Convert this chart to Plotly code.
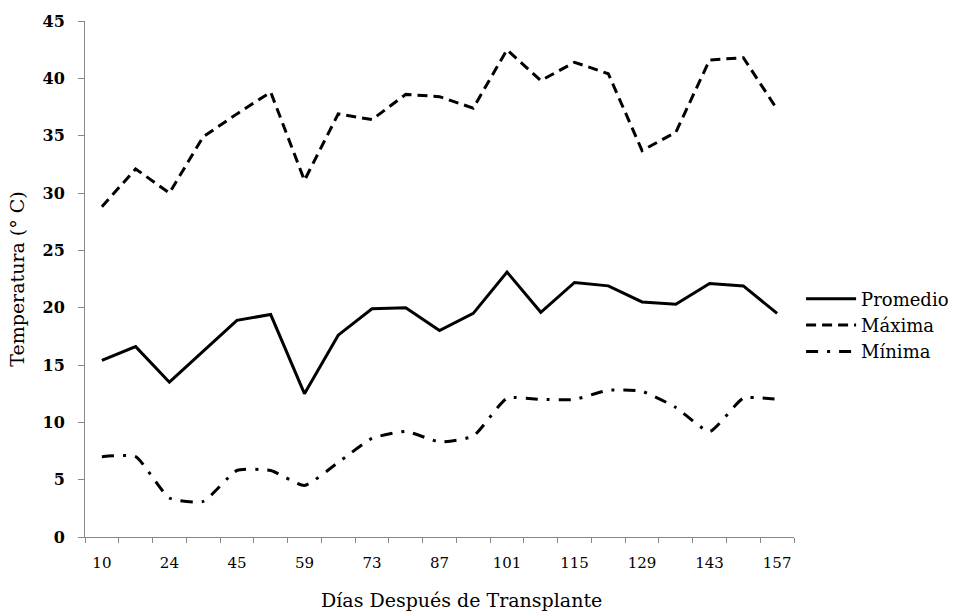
import plotly.graph_objects as go

days = ["10", "17", "24", "31", "45", "52", "59", "66", "73", "80", "87",
        "94", "101", "108", "115", "122", "129", "136", "143", "150", "157"]
promedio = [15.4, 16.6, 13.5, 16.2, 18.9, 19.4, 12.5, 17.6, 19.9, 20.0, 18.0,
            19.5, 23.1, 19.6, 22.2, 21.9, 20.5, 20.3, 22.1, 21.9, 19.5]
maxima = [28.8, 32.1, 30.0, 34.9, 36.9, 38.8, 31.1, 36.9, 36.4, 38.6, 38.4,
          37.4, 42.5, 39.8, 41.4, 40.4, 33.7, 35.3, 41.6, 41.8, 37.3]
minima = [7.0, 7.0, 3.4, 3.1, 5.8, 5.8, 4.5, 6.5, 8.6, 9.2, 8.3,
          8.8, 12.1, 12.0, 12.0, 12.8, 12.7, 11.3, 9.2, 12.1, 12.0]
tick_text = [d if i % 2 == 0 else "" for i, d in enumerate(days)]
y_ticks = [0, 5, 10, 15, 20, 25, 30, 35, 40, 45]

serif = "DejaVu Serif"
fig = go.Figure()
fig.add_trace(go.Scatter(x=days, y=promedio, name="Promedio", mode="lines",
                         line=dict(color="black", width=3)))
fig.add_trace(go.Scatter(x=days, y=maxima, name="Máxima", mode="lines",
                         line=dict(color="black", width=3, dash="10px,6px")))
fig.add_trace(go.Scatter(x=days, y=minima, name="Mínima", mode="lines",
                         line=dict(color="black", width=3, dash="12px,9px,3px,9px",
                                   shape="spline", smoothing=0.5)))

fig.add_annotation(text="Días Después de Transplante", xref="paper", yref="paper",
                   x=0.531, y=-0.122, xanchor="center", yanchor="middle",
                   showarrow=False, font=dict(family=serif, size=19, color="black"))

fig.update_layout(
    width=966, height=611,
    margin=dict(l=85, r=169, t=21, b=74),
    plot_bgcolor="white", paper_bgcolor="white",
    showlegend=True,
    legend=dict(x=1.01, y=0.41, xanchor="left", yanchor="middle",
                font=dict(family=serif, size=18, color="black"),
                tracegroupgap=0, itemwidth=50),
    xaxis=dict(type="category", tickvals=days, ticktext=tick_text,
               tickson="boundaries", ticks="outside", ticklen=5, tickangle=0,
               ticklabelstandoff=12,
               tickcolor="#888888", showline=True, linecolor="#888888",
               linewidth=1, showgrid=False, zeroline=False,
               range=[-0.5, 20.5],
               tickfont=dict(family=serif, size=15, color="black")),
    yaxis=dict(range=[0, 45], tickvals=y_ticks, ticks="outside", ticklen=6,
               ticklabelstandoff=10,
               tickcolor="#888888", showline=True, linecolor="#888888",
               linewidth=1, showgrid=False, zeroline=False,
               tickfont=dict(family=serif, size=16, color="black", weight="bold"),
               title=dict(text="Temperatura (° C)", standoff=12,
                          font=dict(family=serif, size=19, color="black"))),
)
fig.write_html("out.html")
